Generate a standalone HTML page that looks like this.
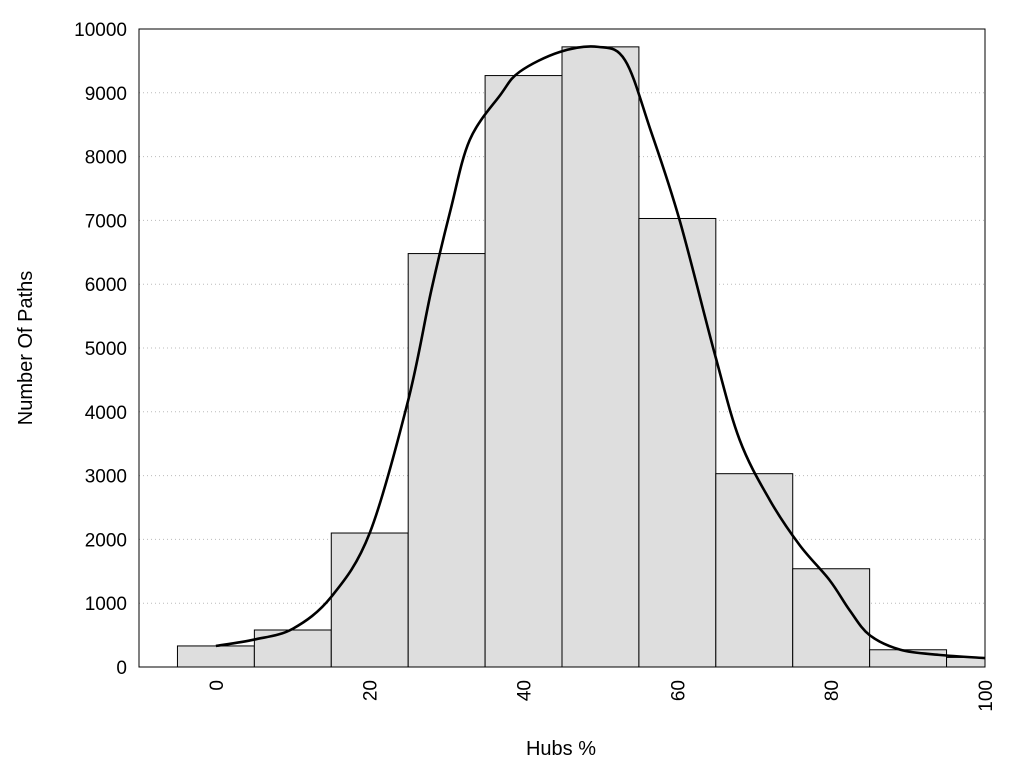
<!DOCTYPE html>
<html><head><meta charset="utf-8"><style>
body{margin:0;background:#fff;font-family:"Liberation Sans",Arial,sans-serif}
svg text{font-family:"Liberation Sans",Arial,sans-serif;fill:#000}
</style></head><body>
<svg id="chart" width="1024" height="768" xmlns="http://www.w3.org/2000/svg">
<g id="grid"></g>
<g id="bars"></g>
<g id="curve"></g>
<rect x="139" y="29" width="846" height="638" fill="none" stroke="#000" stroke-width="1"/>
<g id="yticks"></g>
<g id="xticks"></g>
<text transform="translate(32,348) rotate(-90)" text-anchor="middle" font-size="20">Number Of Paths</text>
<text x="561" y="755" text-anchor="middle" font-size="20">Hubs %</text>
</svg>
<script>
const binCenters=[0,10,20,30,40,50,60,70,80,90,100];
const binCounts=[330,580,2100,6480,9270,9720,7030,3030,1540,270,150];
const curveX=[0,5,10,15,20,25,28,30.5,33,37,39.5,44.7,49.7,53.2,56.5,60.3,64.9,68.1,72,75.9,79.8,82.4,85,89,94,100];
const curveY=[330,430,600,1100,2100,4180,5900,7160,8260,8970,9330,9640,9720,9510,8420,7000,4890,3560,2620,1910,1360,890,500,270,190,140];
const yTicks=[0,1000,2000,3000,4000,5000,6000,7000,8000,9000,10000];
const xTicks=[0,20,40,60,80,100];
const NS="http://www.w3.org/2000/svg";
const X0=139,X1=985,Y0=667,Y1=29,XMIN=-10,XMAX=100,YMAX=10000;
const sx=v=>X0+(v-XMIN)/(XMAX-XMIN)*(X1-X0);
const sy=v=>Y0-v/YMAX*(Y0-Y1);
function mk(t,a,p){const e=document.createElementNS(NS,t);for(const k in a)e.setAttribute(k,a[k]);p.appendChild(e);return e;}
const grid=document.getElementById('grid'),bars=document.getElementById('bars'),curve=document.getElementById('curve'),yt=document.getElementById('yticks'),xt=document.getElementById('xticks');
yTicks.forEach(v=>{
 if(v>0&&v<YMAX){const l=mk('line',{x1:X0,x2:X1,y1:sy(v),y2:sy(v),stroke:'#bbb','stroke-dasharray':'1,3'},grid);
 
 }
 const t=mk('text',{x:X0-12,y:sy(v)+7,'text-anchor':'end','font-size':'19'},yt);
 t.textContent=v;
 
 
});
binCenters.forEach((c,i)=>{
 const l=Math.max(sx(c-5),X0),r=Math.min(sx(c+5),X1);
 const b=mk('rect',{x:l,y:sy(binCounts[i]),width:r-l,height:Y0-sy(binCounts[i]),fill:'#dedede',stroke:'#000','stroke-width':1},bars);
 
 
});
const pts=curveX.map((x,i)=>[sx(x),sy(curveY[i])]);
let d='M'+pts[0][0]+','+pts[0][1];
for(let i=0;i<pts.length-1;i++){const p0=pts[i-1]||pts[i],p1=pts[i],p2=pts[i+1],p3=pts[i+2]||p2;
 d+=' C'+(p1[0]+(p2[0]-p0[0])/6)+','+(p1[1]+(p2[1]-p0[1])/6)+' '+(p2[0]-(p3[0]-p1[0])/6)+','+(p2[1]-(p3[1]-p1[1])/6)+' '+p2[0]+','+p2[1];}
const path=mk('path',{d:d,fill:'none',stroke:'#000','stroke-width':2.6},curve);


xTicks.forEach(v=>{
 const t=mk('text',{transform:'translate('+(sx(v)+7)+',680) rotate(-90)','text-anchor':'end','font-size':'19'},xt);
 t.textContent=v;
 
 
});
</script>
</body></html>
